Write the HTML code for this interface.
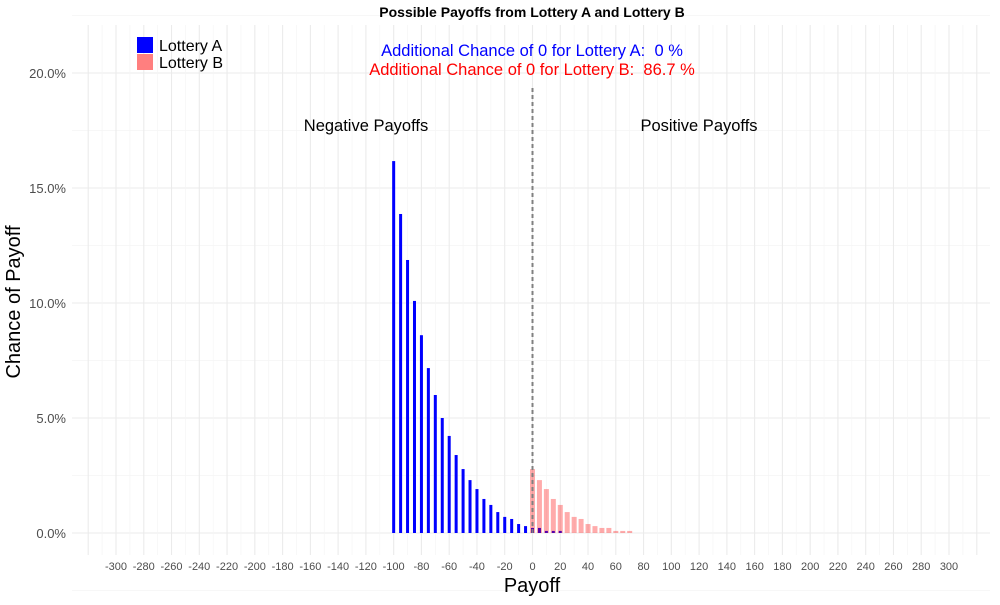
<!DOCTYPE html>
<html><head><meta charset="utf-8"><style>
body{margin:0;background:#fff;}
svg text{font-family:"Liberation Sans",sans-serif;}
</style></head><body>
<svg id="chart" width="1000" height="600" xmlns="http://www.w3.org/2000/svg">
<g id="grid"></g>
<g id="bars"></g>
<g id="axes"></g>
<text x="532" y="17" text-anchor="middle" font-size="14" font-weight="bold">Possible Payoffs from Lottery A and Lottery B</text>
<text transform="translate(20,302) rotate(-90)" text-anchor="middle" font-size="20">Chance of Payoff</text>
<text x="532" y="592" text-anchor="middle" font-size="20">Payoff</text>
<text x="532" y="56" text-anchor="middle" font-size="16.5" fill="#0000ff">Additional Chance of 0 for Lottery A:&#160; 0 %</text>
<text x="532" y="75" text-anchor="middle" font-size="16.5" fill="#ff0000">Additional Chance of 0 for Lottery B:&#160; 86.7 %</text>
<text x="366" y="131" text-anchor="middle" font-size="16.5">Negative Payoffs</text>
<text x="699" y="131" text-anchor="middle" font-size="16.5">Positive Payoffs</text>
<g>
<rect x="137" y="37" width="16" height="16" fill="#0000ff"/>
<text x="159" y="51" font-size="16">Lottery A</text>
<rect x="137" y="54" width="16" height="16" fill="#ff7f7f"/>
<text x="159" y="68" font-size="16">Lottery B</text>
</g>
</svg>
<script>
const payoffsA=[-100,-95,-90,-85,-80,-75,-70,-65,-60,-55,-50,-45,-40,-35,-30,-25,-20,-15,-10,-5,0,5,10,15,20];
const valuesA=[16.17,13.87,11.87,10.09,8.6,7.17,6.0,5.0,4.22,3.39,2.78,2.30,1.91,1.48,1.22,0.91,0.70,0.61,0.39,0.30,0.22,0.22,0.09,0.09,0.09];
const payoffsB=[0,5,10,15,20,25,30,35,40,45,50,55,60,65,70];
const valuesB=[2.78,2.30,1.91,1.48,1.22,0.91,0.70,0.61,0.39,0.30,0.22,0.22,0.09,0.09,0.09];
const xTicks=[-300,-280,-260,-240,-220,-200,-180,-160,-140,-120,-100,-80,-60,-40,-20,0,20,40,60,80,100,120,140,160,180,200,220,240,260,280,300];
const yTicks=[0,5,10,15,20];
const NS="http://www.w3.org/2000/svg";
const x=v=>532.5+v*833/600;
const y=v=>533-v*23;
function mk(tag,attrs,parent){const e=document.createElementNS(NS,tag);for(const k in attrs)e.setAttribute(k,attrs[k]);parent.appendChild(e);return e;}
const grid=document.getElementById('grid'),bars=document.getElementById('bars'),axes=document.getElementById('axes');
for(let v=-2.5;v<=22.5;v+=2.5){const l=mk('line',{x1:72,x2:990,y1:y(v),y2:y(v),stroke:v%5===0?'#ebebeb':'#f5f5f5','stroke-width':v%5===0?1.1:0.7},grid);

}
for(let v=-320;v<=320;v+=10){const l=mk('line',{x1:x(v),x2:x(v),y1:25,y2:555,stroke:v%20===0?'#ebebeb':'#f5f5f5','stroke-width':v%20===0?1.1:0.7},grid);

}
yTicks.forEach(t=>{const e=mk('text',{x:66,y:y(t)+5,'text-anchor':'end','font-size':13,fill:'#4d4d4d'},axes);e.textContent=t.toFixed(1)+'%';

});
xTicks.forEach(t=>{const e=mk('text',{x:x(t),y:570,'text-anchor':'middle','font-size':11,fill:'#4d4d4d'},axes);e.textContent=t;

});
payoffsA.forEach((p,i)=>{const r=mk('rect',{x:x(p)-1.5,y:y(valuesA[i]),width:3,height:533-y(valuesA[i]),fill:'#0000ff'},bars);

});
payoffsB.forEach((p,i)=>{const r=mk('rect',{x:x(p)-2.5,y:y(valuesB[i]),width:5,height:533-y(valuesB[i]),fill:'#ff0000','fill-opacity':0.33},bars);

});
const d=mk('line',{x1:x(0),x2:x(0),y1:88,y2:533,stroke:'#808080','stroke-width':2,'stroke-dasharray':'4,3'},bars);


</script>
</body></html>
